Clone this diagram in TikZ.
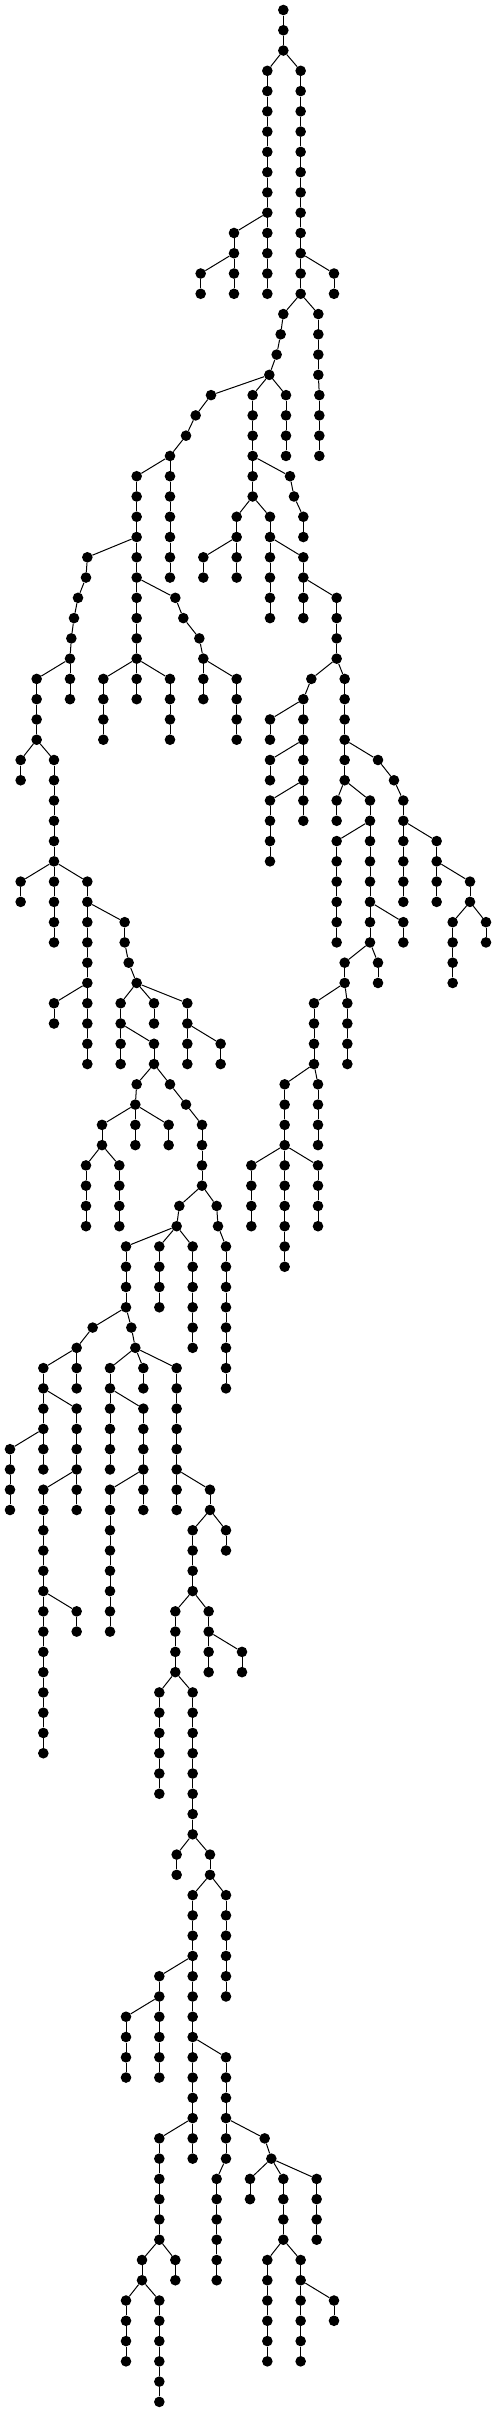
\documentclass[tikz,border=0pt]{standalone}
\begin{document}
\begin{tikzpicture}[x=1pt,y=1pt,
  dot/.style={circle,fill=black,inner sep=0pt,minimum size=10.6pt},
  edge/.style={line width=1pt,black}]
\useasboundingbox (0,0) rectangle (496,-2412);
\newcommand\lv[2]{%
  \foreach \X/\P in {#2}{%
    \node[dot] (n#1-\X) at ({\X/3},{-10-20.27*#1}) {};
    \pgfmathtruncatemacro\pl{#1-1}
    \draw[edge] (n\pl-\P) -- (n#1-\X);
  }}
\node[dot] (n0-850) at ({850/3},-10) {};
\lv{1}{850/850}
\lv{2}{850/850}
\lv{3}{802/850,902/850}
\lv{4}{802/802,902/902}
\lv{5}{802/802,902/902}
\lv{6}{802/802,902/902}
\lv{7}{802/802,902/902}
\lv{8}{802/802,902/902}
\lv{9}{802/802,902/902}
\lv{10}{802/802,902/902}
\lv{11}{702/802,802/802,902/902}
\lv{12}{702/702,802/802,902/902}
\lv{13}{602/702,702/702,802/802,902/902,1002/902}
\lv{14}{602/602,702/702,802/802,902/902,1002/1002}
\lv{15}{850/902,955/902}
\lv{16}{842/850,955/955}
\lv{17}{830/842,955/955}
\lv{18}{808/830,955/955}
\lv{19}{633/808,758/808,858/808,958/955}
\lv{20}{587/633,758/758,858/858,958/958}
\lv{21}{558/587,758/758,858/858,958/958}
\lv{22}{510/558,758/758,858/858,958/958}
\lv{23}{410/510,510/510,758/758,870/758}
\lv{24}{410/410,510/510,758/758,882/870}
\lv{25}{410/410,510/510,710/758,810/758,910/882}
\lv{26}{410/410,510/510,710/710,810/810,910/910}
\lv{27}{262/410,410/410,510/510,610/710,710/710,810/810,910/810}
\lv{28}{258/262,410/410,510/510,610/610,710/710,810/810,910/910}
\lv{29}{234/258,410/410,526/410,810/810,910/910,1010/910}
\lv{30}{222/234,410/410,550/526,810/810,910/910,1010/1010}
\lv{31}{214/222,410/410,598/550,1010/1010}
\lv{32}{210/214,410/410,610/598,1010/1010}
\lv{33}{110/210,210/210,310/410,410/410,510/410,610/610,710/610,934/1010,1034/1010}
\lv{34}{110/110,210/210,310/310,410/410,510/510,610/610,710/710,910/934,1034/1034}
\lv{35}{110/110,310/310,510/510,710/710,810/910,910/910,1034/1034}
\lv{36}{110/110,310/310,510/510,710/710,810/810,910/910,1034/1034}
\lv{37}{62/110,162/110,810/910,910/910,1034/1034,1134/1034}
\lv{38}{62/62,162/162,810/810,910/910,1034/1034,1182/1134}
\lv{39}{162/162,810/910,910/910,1010/1034,1110/1034,1210/1182}
\lv{40}{162/162,810/810,910/910,1010/1010,1110/1110,1210/1210}
\lv{41}{162/162,810/810,1010/1110,1110/1110,1210/1210,1310/1210}
\lv{42}{162/162,810/810,1010/1010,1110/1110,1210/1210,1310/1310}
\lv{43}{62/162,162/162,262/162,1010/1010,1110/1110,1210/1210,1310/1310,1410/1310}
\lv{44}{62/62,162/162,262/262,1010/1010,1110/1110,1210/1210,1310/1310,1410/1410}
\lv{45}{162/162,262/262,374/262,1010/1010,1110/1110,1210/1110,1358/1410,1458/1410}
\lv{46}{162/162,262/262,374/374,1010/1010,1110/1110,1210/1210,1358/1358,1458/1458}
\lv{47}{262/262,386/374,1034/1110,1134/1110,1358/1358}
\lv{48}{262/262,410/386,1034/1034,1134/1134,1358/1358}
\lv{49}{162/262,262/262,362/410,462/410,562/410,942/1034,1042/1034}
\lv{50}{162/162,262/262,362/362,462/462,562/562,942/942,1042/1042}
\lv{51}{262/262,362/362,462/362,562/562,662/562,942/942,1042/1042}
\lv{52}{262/262,362/362,462/462,562/562,662/662,942/942,1042/1042}
\lv{53}{410/462,510/462,854/942,954/942}
\lv{54}{406/410,558/510,854/854,954/954}
\lv{55}{306/406,406/406,506/406,606/558,854/854,954/954}
\lv{56}{306/306,406/406,506/506,606/606,854/854,954/954}
\lv{57}{258/306,358/306,606/606,754/854,854/854,954/854}
\lv{58}{258/258,358/358,606/606,754/754,854/854,954/954}
\lv{59}{258/258,358/358,538/606,650/606,754/754,854/854,954/954}
\lv{60}{258/258,358/358,530/538,654/650,754/754,854/854,954/954}
\lv{61}{378/530,478/530,578/530,678/654,854/854}
\lv{62}{378/378,478/478,578/578,678/678,854/854}
\lv{63}{378/378,478/478,578/578,678/678}
\lv{64}{378/378,478/478,578/578,678/678}
\lv{65}{278/378,394/378,578/578,678/678}
\lv{66}{230/278,406/394,578/578,678/678}
\lv{67}{130/230,230/230,330/406,430/406,530/406,678/678}
\lv{68}{130/130,230/230,330/330,430/430,530/530,678/678}
\lv{69}{130/130,230/130,330/330,430/330,530/530}
\lv{70}{130/130,230/230,330/330,430/430,530/530}
\lv{71}{30/130,130/130,230/230,330/330,430/430,530/530}
\lv{72}{30/30,130/130,230/230,330/330,430/430,530/530}
\lv{73}{30/30,130/230,230/230,330/430,430/430,530/530,630/530}
\lv{74}{30/30,130/130,230/230,330/330,430/430,530/530,630/630}
\lv{75}{130/130,330/330,578/630,678/630}
\lv{76}{130/130,330/330,578/578,678/678}
\lv{77}{130/130,330/330,578/578}
\lv{78}{130/130,330/330,578/578}
\lv{79}{130/130,230/130,330/330,526/578,626/578}
\lv{80}{130/130,230/230,330/330,526/526,626/626}
\lv{81}{130/130,526/526,626/626,726/626}
\lv{82}{130/130,526/526,626/626,726/726}
\lv{83}{130/130,478/526,578/526}
\lv{84}{130/130,478/478,578/578}
\lv{85}{130/130,478/478,578/578}
\lv{86}{130/130,478/478,578/578}
\lv{87}{478/478,578/578}
\lv{88}{478/478,578/578}
\lv{89}{578/578}
\lv{90}{578/578}
\lv{91}{530/578,630/578}
\lv{92}{530/530,630/630}
\lv{93}{578/630,678/630}
\lv{94}{578/578,678/678}
\lv{95}{578/578,678/678}
\lv{96}{578/578,678/678}
\lv{97}{478/578,578/578,678/678}
\lv{98}{478/478,578/578,678/678}
\lv{99}{378/478,478/478,578/578}
\lv{100}{378/378,478/478,578/578}
\lv{101}{378/378,478/478,578/578,678/578}
\lv{102}{378/378,478/478,578/578,678/678}
\lv{103}{578/578,678/678}
\lv{104}{578/578,678/678}
\lv{105}{478/578,578/578,678/678,794/678}
\lv{106}{478/478,578/578,678/678,814/794}
\lv{107}{478/478,650/678,750/814,850/814,950/814}
\lv{108}{478/478,650/650,750/750,850/850,950/950}
\lv{109}{478/478,650/650,850/850,950/950}
\lv{110}{478/478,650/650,850/850,950/950}
\lv{111}{426/478,526/478,650/650,802/850,902/850}
\lv{112}{426/426,526/526,650/650,802/802,902/902}
\lv{113}{378/426,478/426,802/802,902/902,1002/902}
\lv{114}{378/378,478/478,802/802,902/902,1002/1002}
\lv{115}{378/378,478/478,802/802,902/902}
\lv{116}{378/378,478/478,802/802,902/902}
\lv{117}{478/478}
\lv{118}{478/478}
\end{tikzpicture}
\end{document}
